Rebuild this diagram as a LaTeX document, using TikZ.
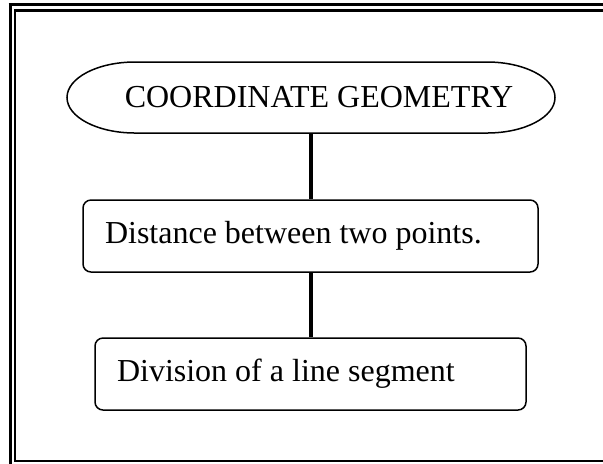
\documentclass[tikz,border=0pt]{standalone}
\usepackage{fontspec}
\setmainfont{Liberation Serif}
\begin{document}
\begin{tikzpicture}[x=0.5pt,y=-0.5pt,
  txt/.style={font=\fontsize{16}{19}\selectfont},
  box/.style={txt, draw, line width=0.75pt, rounded corners=4pt, minimum height=36pt,
              inner xsep=11pt, inner ysep=0pt, align=flush left},
  link/.style={line width=2pt}]
\useasboundingbox (0,0) rectangle (603,463);
\clip (0,0) rectangle (603,463);
% page frame
\draw[line width=1.5pt] (10,3.5) -- (10,470);
\draw[line width=1.25pt] (8.5,4.5) -- (620,4.5);
\draw[line width=1pt] (15,9) -- (15,462);
\draw[line width=1.5pt] (14,10.5) -- (620,10.5);
\draw[line width=1pt] (14,461) -- (620,461);
% title
\node[txt, minimum width=244pt, minimum height=35.5pt, inner sep=0pt] (cg) at (311,97.5)
  {\hspace*{8pt}COORDINATE GEOMETRY};
\draw[line width=0.75pt] (135,62) -- (487,62)
  arc[start angle=90, end angle=-90, x radius=34pt, y radius=17.75pt]
  -- (135,133)
  arc[start angle=270, end angle=90, x radius=34pt, y radius=17.75pt] -- cycle;
% boxes
\node[box, text width=205.5pt] (d) at (310.5,236) {Distance between two points.};
\node[box, text width=193.5pt] (v) at (310.5,374) {Division of a line segment};
% connectors
\draw[link] (cg.south) -- (cg.south |- d.north);
\draw[link] (d.south) -- (v.north);
\end{tikzpicture}
\end{document}
